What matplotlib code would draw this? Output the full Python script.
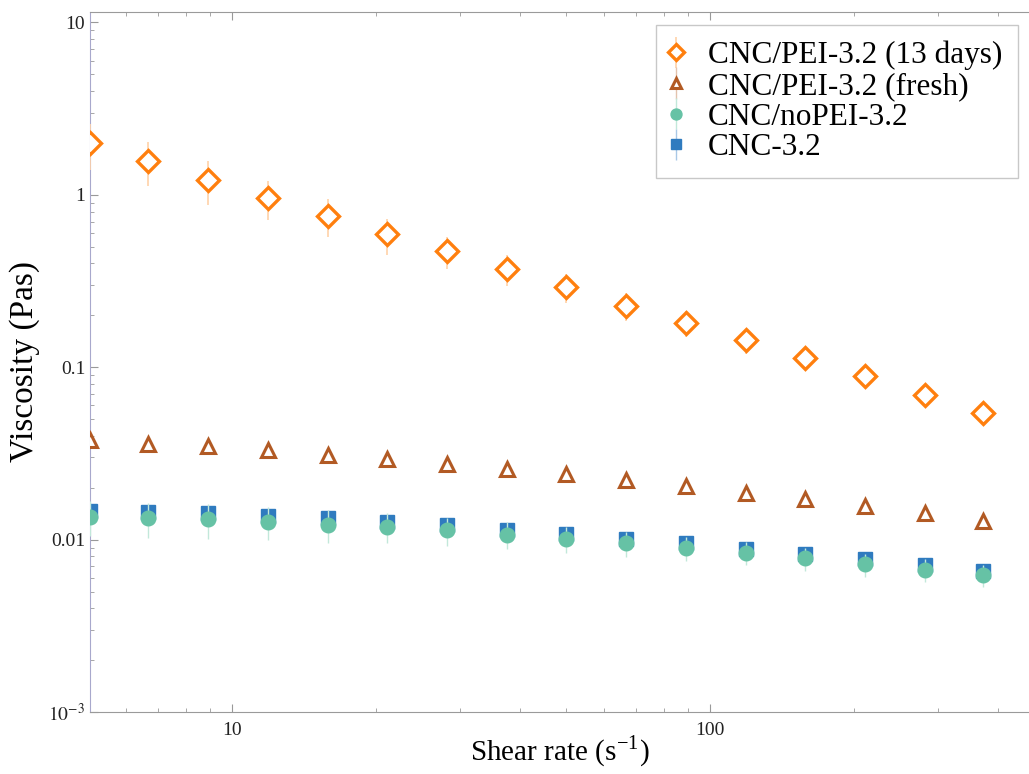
import numpy as np
import matplotlib
matplotlib.use("Agg")
import matplotlib.pyplot as plt

plt.rcParams['font.family'] = ['Liberation Serif', 'DejaVu Serif']
plt.rcParams['mathtext.fontset'] = 'stix'

#===Data===#
shear = [5.05, 6.67, 8.91, 11.9, 15.9, 21.1, 28.2, 37.6, 50.1, 66.8, 89.1, 118.9, 158, 211, 282, 372]

pei_13d = [1.99, 1.57, 1.22, 0.96, 0.757, 0.589, 0.47, 0.37, 0.292, 0.227, 0.181, 0.143, 0.113, 0.0888, 0.069, 0.0544]
pei_13d_err = [0.6, 0.45, 0.35, 0.25, 0.19, 0.14, 0.10, 0.075, 0.055, 0.042, 0.032, 0.024, 0.017, 0.012, 0.009, 0.0065]

pei_fresh = [0.0376, 0.0361, 0.0347, 0.0329, 0.0308, 0.0292, 0.0273, 0.0256, 0.0239, 0.0221, 0.0204, 0.0186, 0.0172, 0.0157, 0.0143, 0.0129]
pei_fresh_err = [0.0015, 0.0014, 0.0013, 0.0012, 0.0011, 0.001, 0.001, 0.0009, 0.0008, 0.0008, 0.0007, 0.0006, 0.0006, 0.0005, 0.0005, 0.0004]

nopei = [0.0136, 0.0133, 0.0131, 0.0127, 0.0122, 0.0119, 0.0113, 0.0107, 0.0101, 0.0095, 0.0089, 0.0084, 0.0078, 0.0072, 0.0067, 0.0062]
nopei_err = [0.0031, 0.0031, 0.003, 0.0028, 0.0026, 0.0024, 0.0021, 0.0019, 0.0017, 0.0016, 0.0014, 0.0013, 0.0012, 0.0011, 0.001, 0.0009]

cnc = [0.0147, 0.0145, 0.0142, 0.0138, 0.0133, 0.0127, 0.0121, 0.0114, 0.0108, 0.0101, 0.0095, 0.0088, 0.0082, 0.0077, 0.0071, 0.0066]
cnc_err = [0.0006, 0.0006, 0.0005, 0.0005, 0.0005, 0.0005, 0.0004, 0.0004, 0.0004, 0.0004, 0.0003, 0.0003, 0.0003, 0.0003, 0.0003, 0.0002]

labels = ['CNC/PEI-3.2 (13 days)', 'CNC/PEI-3.2 (fresh)', 'CNC/noPEI-3.2', 'CNC-3.2']

#===Plot===#
fig = plt.figure(figsize=(10.29, 7.74), dpi=100)
ax = fig.add_axes([0.0875, 0.0801, 0.9125, 0.9044])

orange = '#ff7f0e'
brown = '#b25a24'
green = '#66c2a5'
blue = '#2f7bbf'

h_cnc = ax.errorbar(shear, cnc, yerr=cnc_err, fmt='s', ms=10, color=blue,
                    ecolor='#a9c8e6', elinewidth=1, capsize=0, zorder=3)
h_nopei = ax.errorbar(shear, nopei, yerr=nopei_err, fmt='o', ms=10.5, color=green,
                      ecolor='#c2e8da', elinewidth=1, capsize=0, zorder=4)
h_fresh = ax.errorbar(shear, pei_fresh, yerr=pei_fresh_err, fmt='^', ms=10, color=brown,
                      mfc='white', mew=2.2, ecolor='#e3c3ae', elinewidth=1, capsize=0, zorder=5)
h_13d = ax.errorbar(shear, pei_13d, yerr=pei_13d_err, fmt='D', ms=11, color=orange,
                    mfc='white', mew=2.4, ecolor='#ffd2a8', elinewidth=1.2, capsize=0, zorder=6)

ax.set_xscale('log')
ax.set_yscale('log')
ax.set_xlim(5.05, 465)
ax.set_ylim(1e-3, 11.5)

ax.set_yticks([1e-3, 1e-2, 1e-1, 1, 10])
ax.set_yticklabels([r'$10^{-3}$', '0.01', '0.1', '1', '10'])
ax.set_xticks([10, 100])
ax.set_xticklabels(['10', '100'])

ax.tick_params(which='both', direction='in', colors='#999999', labelcolor='#222222',
               top=True, right=False, labelsize=14)
ax.tick_params(which='major', length=6, width=0.8)
ax.tick_params(which='minor', length=3, width=0.6)
ax.tick_params(axis='x', which='major', pad=7)

ax.spines['right'].set_visible(False)
ax.spines['left'].set_color('#a8a8cc')
ax.spines['bottom'].set_color('#9a9a9a')
ax.spines['top'].set_color('#9a9a9a')

ax.set_xlabel('Shear rate (s$^{\\mathregular{-1}}$)', fontsize=21, labelpad=-3)
ax.set_ylabel('Viscosity (Pas)', fontsize=24, labelpad=6)

leg = ax.legend([h_13d, h_fresh, h_nopei, h_cnc], labels, loc='upper right',
                bbox_to_anchor=(0.988, 0.981), borderaxespad=0, fontsize=22.5,
                fancybox=False, edgecolor='#bbbbbb', handletextpad=0.9,
                borderpad=0.5, labelspacing=0.05, handlelength=0.25, markerscale=0.75)
leg.get_frame().set_linewidth(1.0)

fig.savefig('out.png', dpi=100)
